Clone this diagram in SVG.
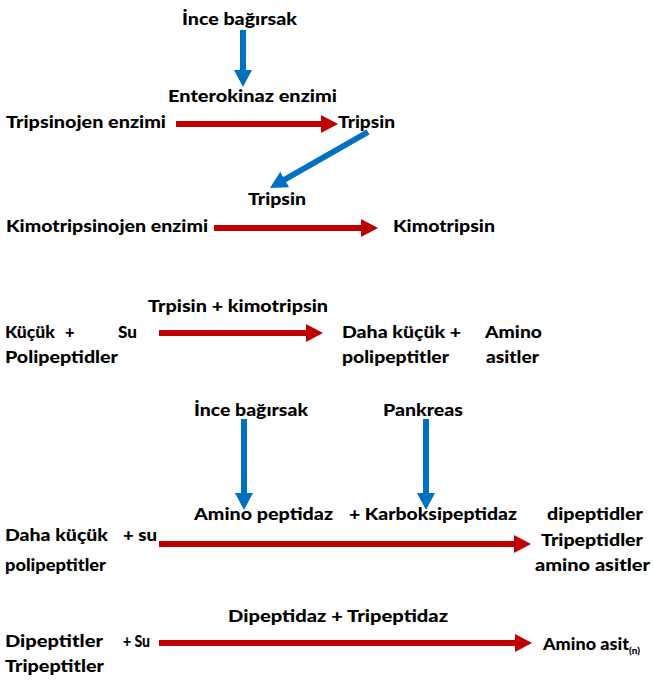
<svg xmlns="http://www.w3.org/2000/svg" width="654" height="682" viewBox="0 0 654 682">
<style>
.t{font-family:Lato,"Liberation Sans",Arial,sans-serif;font-weight:900;font-size:16.5px;fill:#000}
.s{font-size:10px}
.red{stroke:#C00000;stroke-width:6;fill:none}
.blue{stroke:#0070C0;stroke-width:6;fill:none}
</style>
<defs>
<marker id="hr" viewBox="0 0 17 18" refX="5" refY="9" markerWidth="17" markerHeight="18" markerUnits="userSpaceOnUse" orient="auto"><path d="M0,0 L17,9 L0,18 Z" fill="#C00000"/></marker>
<marker id="hb" viewBox="0 0 17 18" refX="5" refY="9" markerWidth="17" markerHeight="18" markerUnits="userSpaceOnUse" orient="auto"><path d="M0,0 L17,9 L0,18 Z" fill="#0070C0"/></marker>
</defs>
<g id="connectors">
<line class="blue" x1="243" y1="30" x2="243" y2="75" marker-end="url(#hb)"/>
<line class="red" x1="176" y1="124" x2="326" y2="124" marker-end="url(#hr)"/>
<line class="blue" x1="368" y1="132" x2="280.4" y2="182" marker-end="url(#hb)"/>
<line class="red" x1="214" y1="228" x2="366" y2="228" marker-end="url(#hr)"/>
<line class="red" x1="159" y1="333" x2="311" y2="333" marker-end="url(#hr)"/>
<line class="blue" x1="244" y1="419" x2="244" y2="498" marker-end="url(#hb)"/>
<line class="blue" x1="426" y1="419" x2="426" y2="498" marker-end="url(#hb)"/>
<line class="red" x1="159" y1="544" x2="519" y2="544" marker-end="url(#hr)"/>
<line class="red" x1="159" y1="643" x2="520" y2="643" marker-end="url(#hr)"/>
</g>
<g id="n1"><text class="t" x="182" y="25" textLength="115" lengthAdjust="spacingAndGlyphs">İnce bağırsak</text></g>
<g id="n2"><text class="t" x="168" y="102" textLength="169" lengthAdjust="spacingAndGlyphs">Enterokinaz enzimi</text></g>
<g id="n3"><text class="t" x="6" y="128" textLength="160" lengthAdjust="spacingAndGlyphs">Tripsinojen enzimi</text></g>
<g id="n4"><text class="t" x="338" y="128" textLength="57" lengthAdjust="spacingAndGlyphs">Tripsin</text></g>
<g id="n5"><text class="t" x="248" y="205" textLength="58" lengthAdjust="spacingAndGlyphs">Tripsin</text></g>
<g id="n6"><text class="t" x="6" y="232" textLength="202" lengthAdjust="spacingAndGlyphs">Kimotripsinojen enzimi</text></g>
<g id="n7"><text class="t" x="393" y="232" textLength="102" lengthAdjust="spacingAndGlyphs">Kimotripsin</text></g>
<g id="n8"><text class="t" x="148" y="312" textLength="180" lengthAdjust="spacingAndGlyphs">Trpisin + kimotripsin</text></g>
<g id="n9">
<text class="t" x="5" y="338" textLength="50" lengthAdjust="spacingAndGlyphs">Küçük</text>
<text class="t" x="65" y="338">+</text>
<text class="t" x="118" y="338" textLength="19" lengthAdjust="spacingAndGlyphs">Su</text>
<text class="t" x="5" y="363" textLength="113" lengthAdjust="spacingAndGlyphs">Polipeptidler</text>
</g>
<g id="n10">
<text class="t" x="342" y="338" textLength="119" lengthAdjust="spacingAndGlyphs">Daha küçük +</text>
<text class="t" x="342" y="363" textLength="107" lengthAdjust="spacingAndGlyphs">polipeptitler</text>
</g>
<g id="n11">
<text class="t" x="485" y="338" textLength="57" lengthAdjust="spacingAndGlyphs">Amino</text>
<text class="t" x="486" y="363" textLength="53" lengthAdjust="spacingAndGlyphs">asitler</text>
</g>
<g id="n12"><text class="t" x="194" y="416" textLength="114" lengthAdjust="spacingAndGlyphs">İnce bağırsak</text></g>
<g id="n13"><text class="t" x="383" y="416" textLength="80" lengthAdjust="spacingAndGlyphs">Pankreas</text></g>
<g id="n14">
<text class="t" x="194" y="520" textLength="139" lengthAdjust="spacingAndGlyphs">Amino peptidaz</text>
<text class="t" x="349" y="520" textLength="168" lengthAdjust="spacingAndGlyphs">+ Karboksipeptidaz</text>
</g>
<g id="n15">
<text class="t" x="5" y="541" textLength="103" lengthAdjust="spacingAndGlyphs">Daha küçük</text>
<text class="t" x="123" y="541" textLength="34" lengthAdjust="spacingAndGlyphs">+ su</text>
<text class="t" x="5" y="571" textLength="101" lengthAdjust="spacingAndGlyphs">polipeptitler</text>
</g>
<g id="n16">
<text class="t" x="547" y="520" textLength="96" lengthAdjust="spacingAndGlyphs">dipeptidler</text>
<text class="t" x="541" y="546" textLength="102" lengthAdjust="spacingAndGlyphs">Tripeptidler</text>
<text class="t" x="535" y="571" textLength="115" lengthAdjust="spacingAndGlyphs">amino asitler</text>
</g>
<g id="n17"><text class="t" x="228" y="622" textLength="220" lengthAdjust="spacingAndGlyphs">Dipeptidaz + Tripeptidaz</text></g>
<g id="n18">
<text class="t" x="5" y="647" textLength="98" lengthAdjust="spacingAndGlyphs">Dipeptitler</text>
<text class="t" x="123" y="647" textLength="27" lengthAdjust="spacingAndGlyphs">+ Su</text>
<text class="t" x="5" y="672" textLength="99" lengthAdjust="spacingAndGlyphs">Tripeptitler</text>
</g>
<g id="n19"><text class="t" x="543" y="650"><tspan textLength="86" lengthAdjust="spacingAndGlyphs">Amino asit</tspan><tspan class="s" dy="4">(n)</tspan></text></g>
</svg>
